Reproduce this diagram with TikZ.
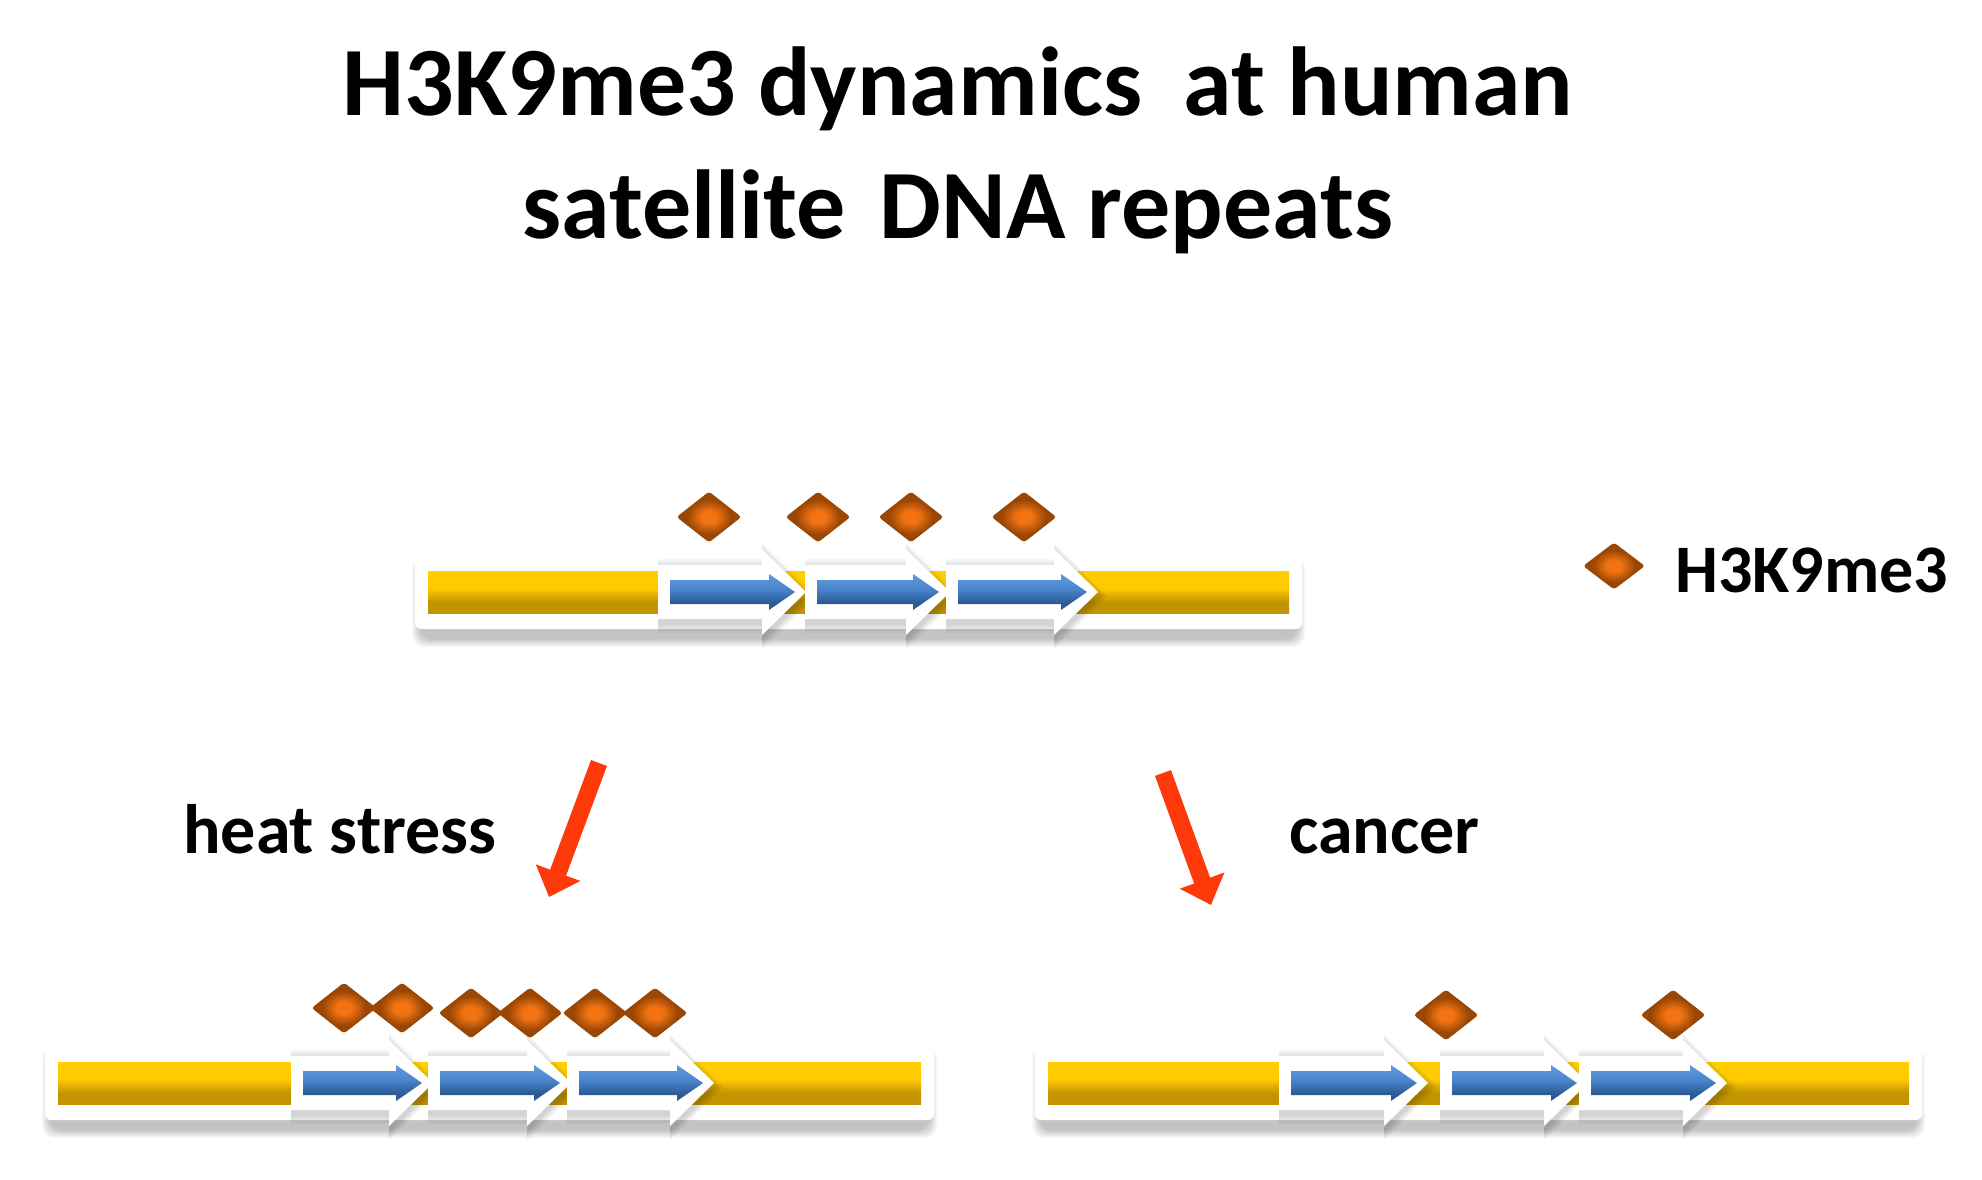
\documentclass[tikz,border=0pt]{standalone}
\usepackage{fontspec}
\setmainfont{Carlito}
\usetikzlibrary{shapes.geometric,arrows.meta}

\definecolor{dbrown}{HTML}{9A4705}
\definecolor{dorange}{HTML}{F27312}
\definecolor{redarrow}{HTML}{FF3A0A}
\definecolor{blueL}{HTML}{6FA6E0}
\definecolor{blueM}{HTML}{4A86CF}
\definecolor{blueD}{HTML}{2C5A95}
\definecolor{ytop}{HTML}{FFD400}
\definecolor{ymid}{HTML}{FFC800}
\definecolor{ylow}{HTML}{C29400}
\definecolor{ydark}{HTML}{8E6E00}

\pgfdeclareradialshading{dshade}{\pgfpoint{0bp}{0bp}}{color(0bp)=(dorange); color(6bp)=(dorange); color(17bp)=(dbrown); color(50bp)=(dbrown)}
\pgfdeclareverticalshading{yshade}{100bp}{color(0bp)=(ydark); color(12bp)=(ylow); color(38bp)=(ylow); color(54bp)=(ymid); color(90bp)=(ytop); color(100bp)=(ymid)}
\pgfdeclareverticalshading{bshade}{100bp}{color(0bp)=(blueD); color(35bp)=(blueD); color(55bp)=(blueM); color(85bp)=(blueL); color(100bp)=(blueL)}

\tikzset{
  whitebox/.style={rectangle, rounded corners=6pt, fill=white, inner sep=0pt, minimum height=74pt},
  yellowbar/.style={rectangle, shading=yshade, inner sep=0pt, minimum height=42pt},
  whitearrow/.style={fill=white},
  arrowshadow/.style={fill=black, opacity=0.035},
  bluearrow/.style={shading=bshade},
  hmark/.style={diamond, shading=dshade, inner sep=0pt, minimum width=65pt, minimum height=51pt, rounded corners=3pt},
  redarr/.style={line width=17pt, color=redarrow, -{Triangle[length=26pt,width=46pt]}},
  titletext/.style={font=\fontsize{98}{110}\selectfont\bfseries, anchor=base, inner sep=0pt},
  labeltext/.style={font=\fontsize{70}{80}\selectfont\bfseries, anchor=base west, inner sep=0pt},
}

\newcommand\dnabar[4]{%
  \foreach \i in {1,...,9}{
    \fill[black, opacity=0.028, rounded corners=12pt]
      ({#2+6-\i},{#4-37+10-\i}) rectangle ({#3-6+\i},{#4+37+9+\i});
  }
  \node[whitebox, minimum width={(#3-#2)*1pt}] (#1box) at ({(#2+#3)/2},#4) {};
  \node[yellowbar, minimum width={(#3-#2-26)*1pt}] (#1bar) at ({(#2+#3)/2},#4) {};
}
% soft glow around a white block arrow: #1 xs, #2 xe, #3 yc
\newcommand\rptshadow[3]{%
  \foreach \s in {2,4,6,8,10}{
    \path[arrowshadow] ({#1},{#3-27-\s+4}) -- ({#2-44},{#3-27-\s+4}) -- ({#2-44},{#3-43-\s+4}) -- ({#2+\s},{#3+4}) --
      ({#2-44},{#3+43+\s+4}) -- ({#2-44},{#3+27+\s+4}) -- ({#1},{#3+27+\s+4}) -- cycle;
  }
}
\newcommand\rpt[3]{%
  \path[whitearrow] ({#1},{#3-27}) -- ({#2-44},{#3-27}) -- ({#2-44},{#3-43}) -- ({#2},{#3}) --
    ({#2-44},{#3+43}) -- ({#2-44},{#3+27}) -- ({#1},{#3+27}) -- cycle;
  \path[bluearrow] ({#1+12},{#3-12}) -- ({#2-37},{#3-12}) -- ({#2-37},{#3-18}) -- ({#2-11},{#3}) --
    ({#2-37},{#3+18}) -- ({#2-37},{#3+12}) -- ({#1+12},{#3+12}) -- cycle;
}

\begin{document}
\begin{tikzpicture}[x=1pt,y=-1pt]
\useasboundingbox[fill=white] (0,0) rectangle (1982,1179);

% title
\node[titletext] (title1) at (958,115) {H3K9me3 dynamics\hspace{0.2em} at human};
\node[titletext] (title2) at (958,238) {satellite\hspace{0.12em} DNA repeats};

% top bar
\dnabar{top}{415}{1302}{592}
\rptshadow{658}{806}{592}\rptshadow{805}{950}{592}\rptshadow{946}{1098}{592}
\rpt{658}{806}{592}
\rpt{805}{950}{592}
\rpt{946}{1098}{592}
\node[hmark] (td1) at (709,517) {};
\node[hmark] (td2) at (818,517) {};
\node[hmark] (td3) at (911,517) {};
\node[hmark] (td4) at (1024,517) {};

% legend
\node[hmark, minimum width=62pt, minimum height=47pt] (legd) at (1614,566) {};
\node[labeltext, font=\fontsize{68}{78}\selectfont\bfseries] (legt) at (1675,592) {H3K9me3};

% red arrows and labels
\coordinate (hsA) at (599,763);
\coordinate (hsB) at (549,897);
\coordinate (caA) at (1163,773);
\coordinate (caB) at (1211,905);
\draw[redarr] (hsA) -- (hsB);
\draw[redarr] (caA) -- (caB);
\node[labeltext] (heat) at (183,853) {heat stress};
\node[labeltext] (cancer) at (1289,853) {cancer};

% bottom left bar
\dnabar{bl}{45}{934}{1083}
\rptshadow{291}{433}{1083}\rptshadow{428}{571}{1083}\rptshadow{567}{714}{1083}
\rpt{291}{433}{1083}
\rpt{428}{571}{1083}
\rpt{567}{714}{1083}
\node[hmark] (ld1) at (344,1008) {};
\node[hmark] (ld2) at (402,1008) {};
\node[hmark] (ld3) at (471,1013) {};
\node[hmark] (ld4) at (530,1013) {};
\node[hmark] (ld5) at (595,1013) {};
\node[hmark] (ld6) at (655,1013) {};

% bottom right bar
\dnabar{br}{1035}{1922}{1083}
\rptshadow{1279}{1428}{1083}\rptshadow{1440}{1588}{1083}\rptshadow{1579}{1727}{1083}
\rpt{1279}{1428}{1083}
\rpt{1440}{1588}{1083}
\rpt{1579}{1727}{1083}
\node[hmark] (rd1) at (1446,1015) {};
\node[hmark] (rd2) at (1673,1015) {};
\end{tikzpicture}
\end{document}
